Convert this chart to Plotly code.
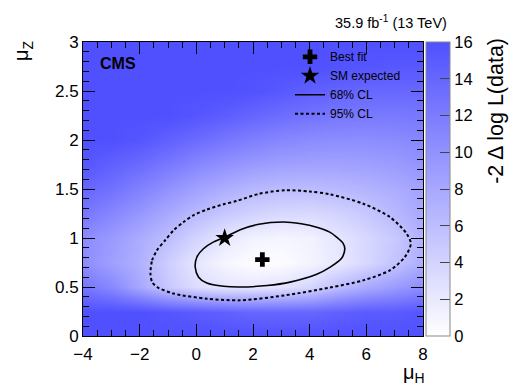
import plotly.graph_objects as go

# grid of -2 Delta log L values (capped at 16)
mu_h = [-4, -3, -2, -1, 0, 1, 2, 3, 4, 5, 6, 7, 8]
mu_z = [0, 0.25, 0.5, 0.75, 1.0, 1.25, 1.5, 1.75, 2.0, 2.25, 2.5, 2.75, 3.0]
nll = [
    [16, 16, 16, 16, 16, 16, 16, 16, 16, 16, 16, 16, 16],
    [16, 16, 16, 15.5, 15, 14.5, 14, 14, 14, 14.5, 15, 15, 15.5],
    [12.5, 11, 8, 5.0, 3.2, 2.4, 2.25, 2.6, 3.8, 6.1, 7.8, 9.2, 10.5],
    [10.5, 8.8, 7.2, 4.5, 2.3, 0.9, 0.1, 0.3, 1.0, 2.1, 3.6, 5.5, 7.5],
    [10.5, 9.3, 7.6, 6.0, 4.0, 2.2, 1.2, 0.9, 1.2, 2.35, 3.6, 5.0, 7.2],
    [12.5, 11, 9.5, 7.8, 6.3, 5.0, 4.0, 3.5, 3.4, 4.0, 5.0, 6.5, 8.0],
    [14, 13, 11.5, 10, 8.6, 7.4, 6.5, 6.1, 6.1, 6.4, 6.9, 7.6, 8.5],
    [15.5, 14.5, 13.5, 12.3, 11, 10, 9.2, 8.7, 8.5, 8.5, 8.7, 9.1, 9.8],
    [16, 16, 15.5, 14.5, 13.5, 12.5, 11.7, 11.0, 10.6, 10.4, 10.4, 10.6, 11.0],
    [16, 16, 16, 16, 15.5, 14.8, 14, 13.3, 12.8, 12.4, 12.2, 12.2, 12.4],
    [16, 16, 16, 16, 16, 16, 15.8, 15.2, 14.6, 14.2, 13.9, 13.8, 13.9],
    [16, 16, 16, 16, 16, 16, 16, 16, 16, 15.8, 15.5, 15.3, 15.3],
    [16, 16, 16, 16, 16, 16, 16, 16, 16, 16, 16, 16, 16],
]

# 68% CL contour
cl68_x = [-0.04, 0.02, 0.25, 0.61, 1.02, 1.55, 2.2, 3.07, 3.7, 4.25, 4.71, 4.95, 5.17, 5.24, 5.12,
          4.71, 4.25, 3.31, 2.5, 1.55, 0.96, 0.37, 0.08, -0.04]
cl68_y = [0.704, 0.806, 0.89, 0.96, 1.01, 1.085, 1.14, 1.163, 1.145, 1.11, 1.06, 1.01, 0.95, 0.89, 0.79,
          0.70, 0.63, 0.55, 0.515, 0.50, 0.507, 0.54, 0.60, 0.704]

# 95% CL contour
cl95_x = [-1.62, -1.56, -1.39, -1.10, -0.80, -0.45, -0.10, 0.37, 0.96, 1.43, 2.2, 3.13, 4.0, 4.71,
          5.89, 6.83, 7.42, 7.57, 7.36, 6.83, 5.89, 4.71, 3.13, 1.55, 0.37, -0.80, -1.39, -1.56, -1.62]
cl95_y = [0.637, 0.772, 0.874, 0.977, 1.079, 1.163, 1.232, 1.29, 1.344, 1.378, 1.45, 1.487, 1.475, 1.446,
          1.35, 1.214, 1.045, 0.943, 0.806, 0.67, 0.568, 0.494, 0.415, 0.364, 0.381, 0.433, 0.50, 0.551, 0.637]

best_fit = ([2.33], [0.78])
sm_expected = ([1.0], [1.0])

x_ticks = [-4, -2, 0, 2, 4, 6, 8]
y_ticks = [0, 0.5, 1, 1.5, 2, 2.5, 3]
cb_ticks = [0, 2, 4, 6, 8, 10, 12, 14, 16]

FONT = "Liberation Sans, Arial, sans-serif"
BLUE = "rgb(80,80,255)"

# page body has an 8px margin; layout expressed in reference pixels
OFF = 8
W, H = 517 - OFF, 387 - OFF
PL, PR, PT, PB = 82.5, 423.3, 41.7, 335.7
PW, PH = PR - PL, PB - PT


def fx(px):
    return (px - PL) / PW


def fy(py):
    return 1 - (py - PT) / PH


fig = go.Figure()
fig.add_trace(go.Heatmap(
    x=mu_h, y=mu_z, z=nll, zmin=0, zmax=16, zsmooth="best",
    colorscale=[[0, "white"], [1, BLUE]], showlegend=False, hoverinfo="skip",
    colorbar=dict(
        x=fx(426), xanchor="left", y=0.5, yanchor="middle", len=1, lenmode="fraction",
        thickness=24, ypad=0, xpad=0, outlinewidth=1, outlinecolor="#888",
        ticks="inside", ticklen=10, tickcolor="#444", tickvals=cb_ticks,
        tickfont=dict(family=FONT, size=16.5, color="black"),
    ),
))
fig.add_trace(go.Scatter(x=best_fit[0], y=best_fit[1], mode="markers", name="Best fit",
                         marker=dict(symbol="cross", size=12, color="black")))
fig.add_trace(go.Scatter(x=sm_expected[0], y=sm_expected[1], mode="markers", name="SM expected",
                         marker=dict(symbol="star", size=14, color="black")))
fig.add_trace(go.Scatter(x=cl68_x, y=cl68_y, mode="lines", name="68% CL",
                         line=dict(color="black", width=1.6, shape="spline", smoothing=0.8)))
fig.add_trace(go.Scatter(x=cl95_x, y=cl95_y, mode="lines", name="95% CL",
                         line=dict(color="black", width=2, dash="3px,2.5px", shape="spline", smoothing=0.8)))

axis_common = dict(
    showgrid=False, zeroline=False, showline=True, linecolor="black", linewidth=1,
    mirror="ticks", ticks="inside", tickcolor="black", ticklen=12,
    tickfont=dict(family=FONT, size=17, color="black"),
)
fig.update_xaxes(range=[-4, 8], tickvals=x_ticks, ticktext=["\u22124", "\u22122", "0", "2", "4", "6", "8"],
                 ticklabelstandoff=3,
                 minor=dict(dtick=0.5, ticks="inside", ticklen=6, tickcolor="black"), **axis_common)
fig.update_yaxes(range=[0, 3], tickvals=y_ticks, ticktext=["0", "0.5", "1", "1.5", "2", "2.5", "3"],
                 minor=dict(dtick=0.1, ticks="inside", ticklen=6, tickcolor="black"), **axis_common)

fig.update_layout(
    width=W, height=H, autosize=False,
    margin=dict(l=PL - OFF, r=W - (PR - OFF), t=PT - OFF, b=H - (PB - OFF), pad=0),
    paper_bgcolor="white", plot_bgcolor="white",
    font=dict(family=FONT, color="black"),
    legend=dict(x=fx(290), y=fy(42), xanchor="left", yanchor="top", bgcolor="rgba(0,0,0,0)",
                font=dict(family=FONT, size=12), tracegroupgap=0, itemwidth=30),
    annotations=[
        dict(text="<b>CMS</b>", x=fx(98), y=fy(63), xref="paper", yref="paper", xanchor="left",
             yanchor="middle", showarrow=False, font=dict(family=FONT, size=16)),
        dict(text="35.9 fb<sup>-1</sup> (13 TeV)", x=fx(449), y=fy(22), xref="paper", yref="paper",
             xanchor="right", yanchor="middle", showarrow=False, font=dict(family=FONT, size=14.5)),
        dict(text="-2 \u0394 log L(data)", x=fx(497), y=fy(111), xref="paper", yref="paper", textangle=-90,
             xanchor="center", yanchor="middle", showarrow=False, font=dict(family=FONT, size=21.5)),
        dict(text="\u03bc<sub>Z</sub>", x=fx(22), y=fy(50), xref="paper", yref="paper", textangle=-90,
             xanchor="center", yanchor="middle", showarrow=False, font=dict(family=FONT, size=20)),
        dict(text="\u03bc<sub>H</sub>", x=fx(414), y=fy(373), xref="paper", yref="paper",
             xanchor="center", yanchor="middle", showarrow=False, font=dict(family=FONT, size=20)),
    ],
)

fig.write_html("out.html")
